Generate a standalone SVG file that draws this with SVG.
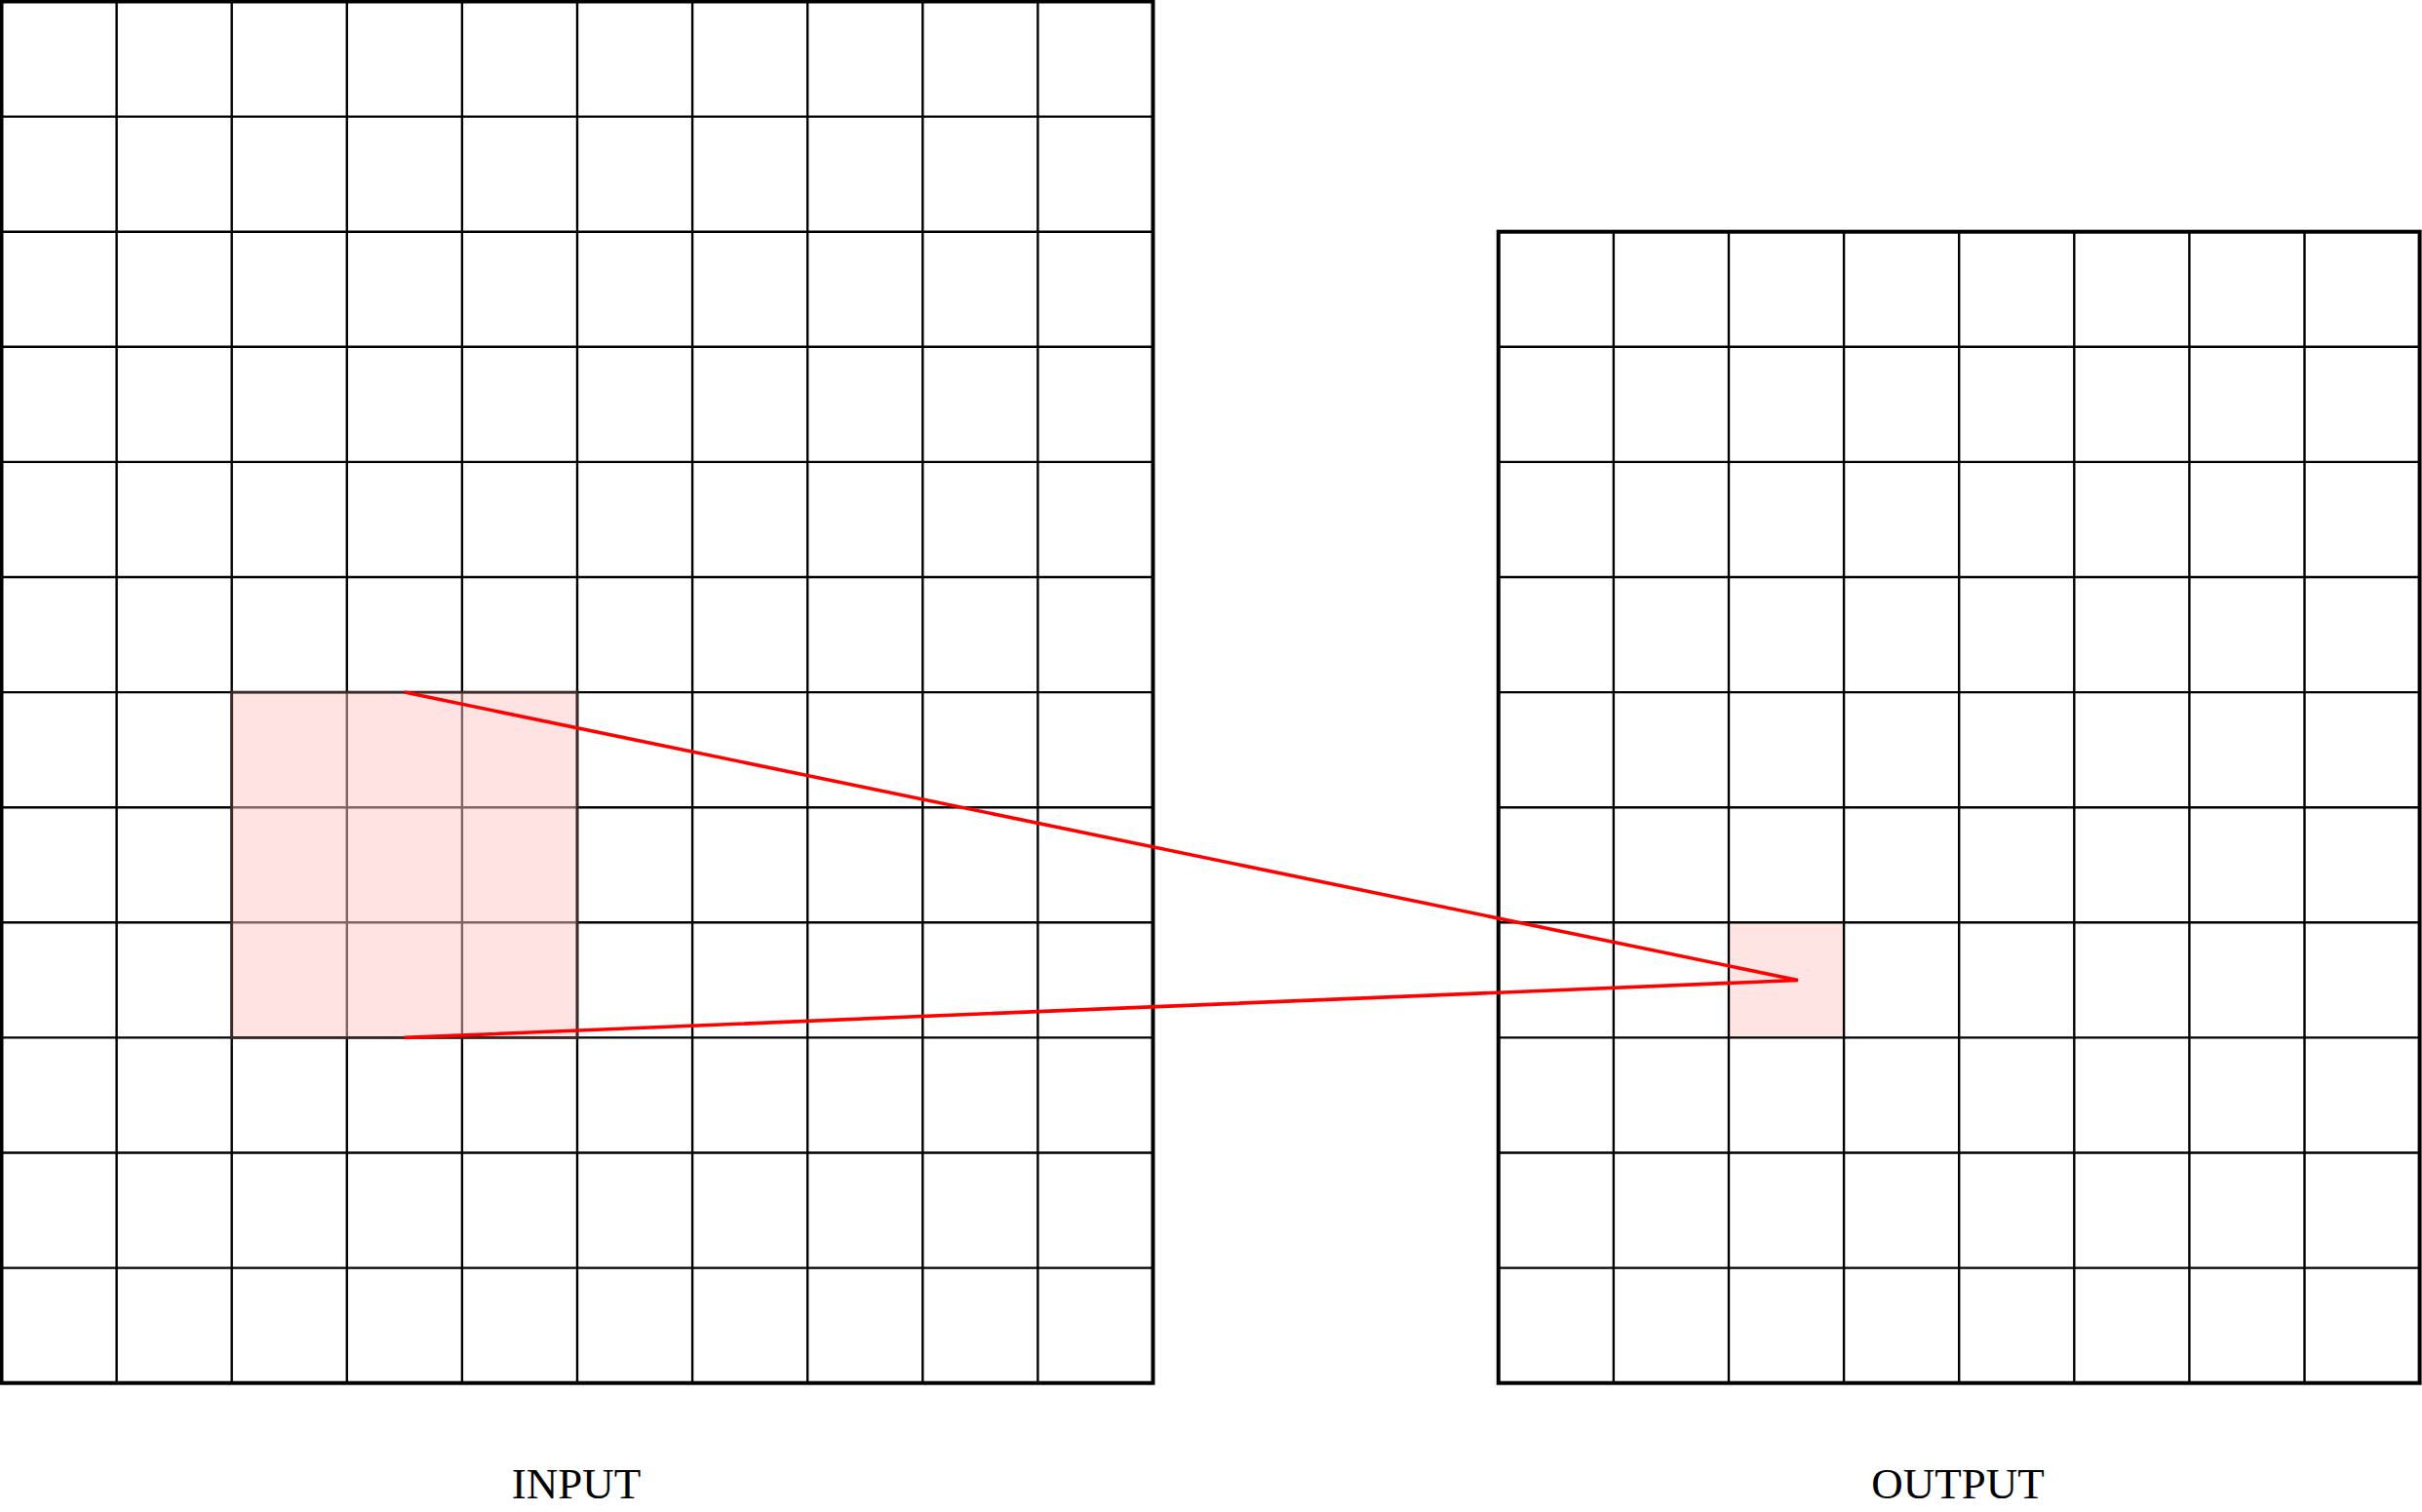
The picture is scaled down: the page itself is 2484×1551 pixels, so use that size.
<svg xmlns="http://www.w3.org/2000/svg" width="2484" height="1551" viewBox="0 0 2484 1551">
<style>
.inner{fill:none;stroke:#000;stroke-width:2.4}
.outer{fill:none;stroke:#000;stroke-width:4}
.lbl{font-family:"Liberation Serif","DejaVu Serif",serif;font-size:45px;fill:#000;text-anchor:middle}
.conn{fill:none;stroke:#ff0000;stroke-width:3.6;stroke-linejoin:miter}
</style>
<rect width="2484" height="1551" fill="#fff"/>
<g id="input">
<path class="inner" d="M119.6 1.5V1418.7M237.7 1.5V1418.7M355.8 1.5V1418.7M473.9 1.5V1418.7M592 1.5V1418.7M710.1 1.5V1418.7M828.2 1.5V1418.7M946.3 1.5V1418.7M1064.4 1.5V1418.7M1.5 119.6H1182.5M1.5 237.7H1182.5M1.5 355.8H1182.5M1.5 473.9H1182.5M1.5 592H1182.5M1.5 710.1H1182.5M1.5 828.2H1182.5M1.5 946.3H1182.5M1.5 1064.4H1182.5M1.5 1182.5H1182.5M1.5 1300.6H1182.5"/>
<rect class="outer" x="1.5" y="1.5" width="1181" height="1417.2"/>
<rect x="237.7" y="710.1" width="354.3" height="354.3" fill="#ffc8c8" fill-opacity="0.5" stroke="#3a2a2a" stroke-width="2.8"/>
<text class="lbl" x="591" y="1537">INPUT</text>
</g>
<g id="output">
<rect x="1773" y="946.3" width="118.1" height="118.1" fill="#ffe4e4"/>
<path class="inner" d="M1654.9 237.7V1418.7M1773 237.7V1418.7M1891.1 237.7V1418.7M2009.2 237.7V1418.7M2127.3 237.7V1418.7M2245.4 237.7V1418.7M2363.5 237.7V1418.7M1536.8 355.8H2481.6M1536.8 473.9H2481.6M1536.8 592H2481.6M1536.8 710.1H2481.6M1536.8 828.2H2481.6M1536.8 946.3H2481.6M1536.8 1064.4H2481.6M1536.8 1182.5H2481.6M1536.8 1300.6H2481.6"/>
<rect class="outer" x="1536.8" y="237.7" width="944.8" height="1181"/>
<text class="lbl" x="2008" y="1537">OUTPUT</text>
</g>
<g id="connectors">
<path class="conn" d="M414.9 710.1L1844 1005.5L414.9 1064.4"/>
</g>
</svg>
